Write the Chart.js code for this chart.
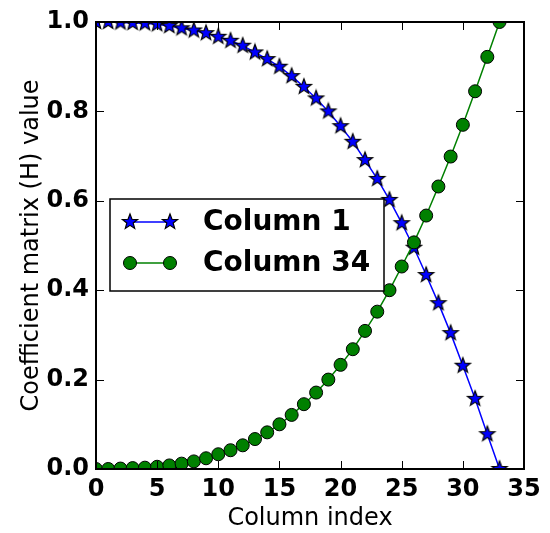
<!DOCTYPE html>
<html>
<head>
<meta charset="utf-8">
<script src="https://cdn.jsdelivr.net/npm/chart.js@4/dist/chart.umd.min.js"></script>
<style>
  html, body { margin: 0; padding: 0; background: #fff; }
</style>
</head>
<body>
<canvas id="chart" width="550" height="533"></canvas>
<script>
// ── Data ──────────────────────────────────────────────────────────────────
const columnIndex = [0,1,2,3,4,5,6,7,8,9,10,11,12,13,14,15,16,17,18,19,20,21,22,23,24,25,26,27,28,29,30,31,32,33];
const column1  = [1.000,1.000,0.999,0.998,0.997,0.995,0.991,0.986,0.981,0.975,0.967,0.958,0.947,0.932,0.917,0.900,
                  0.879,0.855,0.829,0.800,0.767,0.732,0.691,0.649,0.602,0.550,0.495,0.434,0.371,0.304,0.231,0.157,0.078,0.000];
const column34 = [0.000,0.000,0.001,0.002,0.003,0.005,0.008,0.012,0.017,0.024,0.033,0.042,0.053,0.067,0.082,0.100,
                  0.121,0.145,0.171,0.200,0.233,0.268,0.309,0.352,0.400,0.453,0.507,0.567,0.632,0.699,0.770,0.845,0.922,1.000];
const seriesNames = ['Column 1', 'Column 34'];
const xTitle = 'Column index';
const yTitle = 'Coefficient matrix (H) value';

const FONT = "'DejaVu Sans', sans-serif";

// filled star marker (matplotlib '*')
function makeStar(r) {
  const s = Math.ceil(r * 2 + 4);
  const c = document.createElement('canvas');
  c.width = s; c.height = s;
  const g = c.getContext('2d');
  const cx = s / 2, cy = s / 2, ri = r * 0.42;
  g.beginPath();
  for (let i = 0; i < 10; i++) {
    const a = -Math.PI / 2 + i * Math.PI / 5;
    const rr = i % 2 ? ri : r;
    const px = cx + rr * Math.cos(a), py = cy + rr * Math.sin(a);
    i ? g.lineTo(px, py) : g.moveTo(px, py);
  }
  g.closePath();
  g.fillStyle = '#0000ff'; g.fill();
  g.lineWidth = 1.2; g.strokeStyle = '#000'; g.stroke();
  return c;
}
const starImg = makeStar(8);

// ── Frame + inward ticks on all four sides (matplotlib classic) ──────────
const framePlugin = {
  id: 'frame',
  afterDatasetsDraw(chart) {
    const { ctx, chartArea: a, scales: { x, y } } = chart;
    ctx.save();
    ctx.strokeStyle = '#000';
    ctx.lineWidth = 1;
    const L = 8;
    x.ticks.forEach(t => {
      const px = Math.round(x.getPixelForValue(t.value)) + 0.5;
      ctx.beginPath();
      ctx.moveTo(px, a.bottom); ctx.lineTo(px, a.bottom - L);
      ctx.moveTo(px, a.top);    ctx.lineTo(px, a.top + L);
      ctx.stroke();
    });
    y.ticks.forEach(t => {
      const py = Math.round(y.getPixelForValue(t.value)) + 0.5;
      ctx.beginPath();
      ctx.moveTo(a.left, py);  ctx.lineTo(a.left + L, py);
      ctx.moveTo(a.right, py); ctx.lineTo(a.right - L, py);
      ctx.stroke();
    });
    ctx.lineWidth = 2;
    ctx.strokeRect(a.left, a.top, a.right - a.left, a.bottom - a.top);
    ctx.restore();
  }
};

// ── Legend box inside the axes ───────────────────────────────────────────
const legendPlugin = {
  id: 'boxLegend',
  afterDraw(chart) {
    const { ctx } = chart;
    const bx = 110, by = 199, bw = 274, bh = 92;
    ctx.save();
    ctx.fillStyle = '#fff';
    ctx.fillRect(bx, by, bw, bh);
    ctx.strokeStyle = '#000'; ctx.lineWidth = 1.5;
    ctx.strokeRect(bx, by, bw, bh);
    const rows = [222, 263];
    chart.data.datasets.forEach((ds, i) => {
      const yy = rows[i], x0 = 130, x1 = 170;
      ctx.strokeStyle = ds.borderColor; ctx.lineWidth = ds.borderWidth;
      ctx.beginPath(); ctx.moveTo(x0, yy); ctx.lineTo(x1, yy); ctx.stroke();
      [x0, x1].forEach(px => {
        if (ds.pointStyle === 'circle') {
          ctx.beginPath(); ctx.arc(px, yy, ds.pointRadius, 0, Math.PI * 2);
          ctx.fillStyle = ds.pointBackgroundColor; ctx.fill();
          ctx.lineWidth = 1; ctx.strokeStyle = '#000'; ctx.stroke();
        } else {
          ctx.drawImage(starImg, px - starImg.width / 2, yy - starImg.height / 2);
        }
      });
      ctx.fillStyle = '#000';
      ctx.font = `bold 28px ${FONT}`;
      ctx.textAlign = 'left'; ctx.textBaseline = 'middle';
      ctx.fillText(ds.label, 203, yy + 1);
    });
    ctx.restore();
  }
};

const toXY = vals => vals.map((v, i) => ({ x: columnIndex[i], y: v }));

new Chart(document.getElementById('chart'), {
  type: 'line',
  data: {
    datasets: [
      { label: seriesNames[0], data: toXY(column1), borderColor: '#0000ff', borderWidth: 1.5,
        pointStyle: starImg, pointRadius: 7, pointHoverRadius: 7, order: 1 },
      { label: seriesNames[1], data: toXY(column34), borderColor: '#008000', borderWidth: 1.5,
        pointStyle: 'circle', pointRadius: 6.5, pointHoverRadius: 6.5,
        pointBackgroundColor: '#008000', pointBorderColor: '#000', pointBorderWidth: 1, order: 0 },
    ]
  },
  options: {
    responsive: false, animation: false, devicePixelRatio: 1,
    layout: { padding: { top: 22, right: 26, left: 0, bottom: 0 } },
    plugins: { legend: { display: false }, tooltip: { enabled: false } },
    scales: {
      x: {
        type: 'linear', min: 0, max: 35,
        ticks: { stepSize: 5, color: '#000', font: { family: FONT, size: 24, weight: 'bold' }, padding: 6, maxRotation: 0 },
        grid: { display: false, drawTicks: false }, border: { display: false },
        title: { display: true, text: xTitle, color: '#000', font: { family: FONT, size: 24 }, padding: { top: 8, bottom: 0 } },
        afterFit: s => { s.height = 64; }
      },
      y: {
        min: 0, max: 1,
        ticks: { stepSize: 0.2, color: '#000', font: { family: FONT, size: 24, weight: 'bold' }, padding: 7,
                 callback: v => v.toFixed(1) },
        grid: { display: false, drawTicks: false }, border: { display: false },
        title: { display: true, text: yTitle, color: '#000', font: { family: FONT, size: 24 }, padding: { top: 17, bottom: 0 } },
        afterFit: s => { s.width = 96; }
      }
    }
  },
  plugins: [framePlugin, legendPlugin]
});
</script>
</body>
</html>
